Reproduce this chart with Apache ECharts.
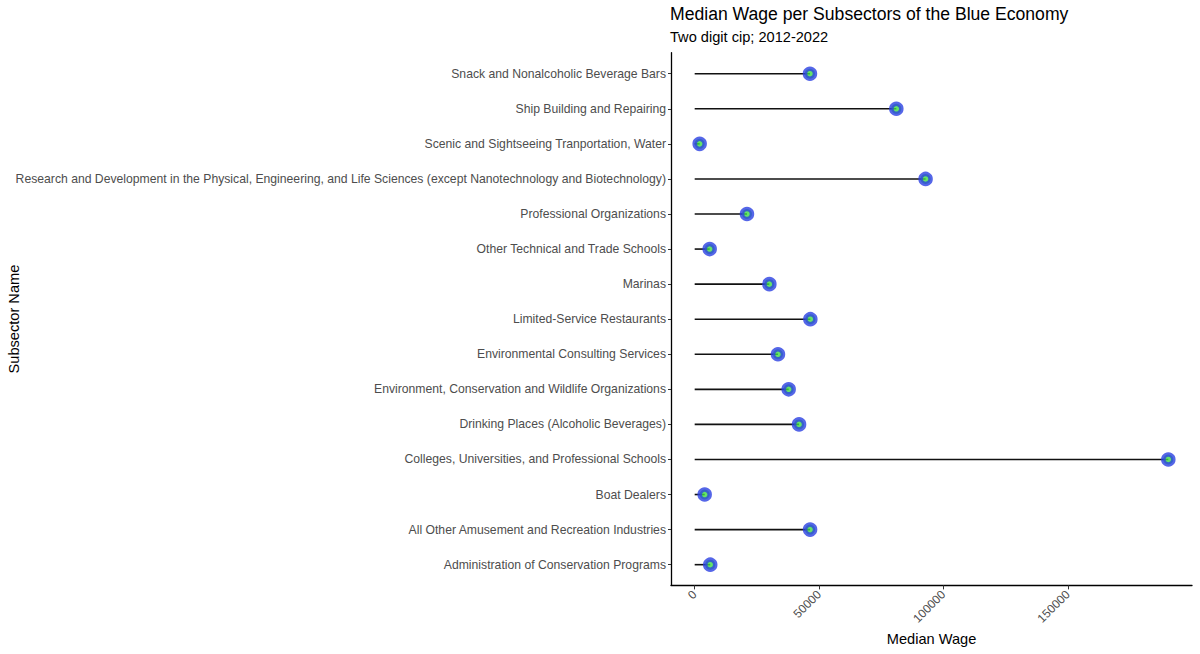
<!DOCTYPE html>
<html lang="en" style="height: 100%">
<head>
    <meta charset="UTF-8">
    <title>Median Wage per Subsectors</title>
    <script src="https://cdn.jsdelivr.net/npm/echarts@6/dist/echarts.min.js"></script>
</head>
<body style="height: 100%; margin: 0; background: #fff">
<div id="container" style="width: 1200px; height: 654px"></div>

<script type="text/javascript">
    // categories bottom -> top (as ggplot draws them)
    var subsectors = [
        'Administration of Conservation Programs',
        'All Other Amusement and Recreation Industries',
        'Boat Dealers',
        'Colleges, Universities, and Professional Schools',
        'Drinking Places (Alcoholic Beverages)',
        'Environment, Conservation and Wildlife Organizations',
        'Environmental Consulting Services',
        'Limited-Service Restaurants',
        'Marinas',
        'Other Technical and Trade Schools',
        'Professional Organizations',
        'Research and Development in the Physical, Engineering, and Life Sciences (except Nanotechnology and Biotechnology)',
        'Scenic and Sightseeing Tranportation, Water',
        'Ship Building and Repairing',
        'Snack and Nonalcoholic Beverage Bars'
    ];
    var medianWage = [6250, 46390, 4020, 190400, 41960, 37780, 33480, 46500, 30020, 6030, 21020, 92820, 2000, 81060, 46340];
    var wageTicks = [0, 50000, 100000, 150000];

    var font = 'Liberation Sans, Arial, sans-serif';
    var xMin = -9520, xMax = 199920;

    var dom = document.getElementById('container');
    var myChart = echarts.init(dom, null, {renderer: 'svg'});

    var option = {
        backgroundColor: '#fff',
        animation: false,
        title: {
            text: 'Median Wage per Subsectors of the Blue Economy',
            subtext: 'Two digit cip; 2012-2022',
            left: 670,
            top: 5,
            itemGap: 6,
            padding: [0, 0, 0, 0],
            textStyle: {fontFamily: font, fontSize: 17.6, fontWeight: 'normal', color: '#000'},
            subtextStyle: {fontFamily: font, fontSize: 14.6, color: '#000'}
        },
        grid: [
            // frame grid: only axis lines, with ggplot's expanded range
            {left: 671, right: 8, top: 52.7, height: 532.7},
            // data grid: category rows
            {left: 671, right: 8, top: 56.2, height: 526}
        ],
        xAxis: [
            {
                gridIndex: 0,
                type: 'value',
                min: xMin,
                max: xMax,
                splitLine: {show: false},
                axisLine: {show: true, onZero: false, lineStyle: {color: '#000', width: 1.3}},
                axisTick: {show: true, customValues: wageTicks, length: 4, lineStyle: {color: '#333'}},
                axisLabel: {
                    customValues: wageTicks,
                    rotate: 45,
                    margin: 7,
                    fontFamily: font,
                    fontSize: 12,
                    color: '#4d4d4d',
                    formatter: function (v) { return String(v); }
                },
                name: 'Median Wage',
                nameLocation: 'middle',
                nameGap: 44,
                nameTextStyle: {fontFamily: font, fontSize: 14.6, color: '#000'}
            },
            {
                gridIndex: 1,
                type: 'value',
                min: xMin,
                max: xMax,
                show: false
            }
        ],
        yAxis: [
            {
                gridIndex: 0,
                type: 'category',
                data: subsectors,
                axisLine: {show: true, onZero: false, lineStyle: {color: '#000', width: 1.3}},
                axisTick: {show: false},
                axisLabel: {show: false},
                name: 'Subsector Name',
                nameLocation: 'middle',
                nameRotate: 90,
                nameGap: 650,
                nameTextStyle: {fontFamily: font, fontSize: 14.6, color: '#000'}
            },
            {
                gridIndex: 1,
                type: 'category',
                data: subsectors,
                axisLine: {show: false, onZero: false},
                axisTick: {show: true, length: 3, alignWithLabel: true, lineStyle: {color: '#333'}},
                axisLabel: {margin: 5, fontFamily: font, fontSize: 12.2, color: '#4d4d4d'}
            }
        ],
        series: [
            {
                name: 'stem',
                type: 'bar',
                xAxisIndex: 1,
                yAxisIndex: 1,
                data: medianWage,
                barWidth: 1.6,
                itemStyle: {color: '#111'}
            },
            {
                name: 'point',
                type: 'scatter',
                xAxisIndex: 1,
                yAxisIndex: 1,
                data: medianWage,
                symbolSize: 10,
                itemStyle: {color: '#3fdc45', borderColor: '#2b40e2', borderWidth: 4.5}
            }
        ]
    };
    myChart.setOption(option, true);
</script>
</body>
</html>
